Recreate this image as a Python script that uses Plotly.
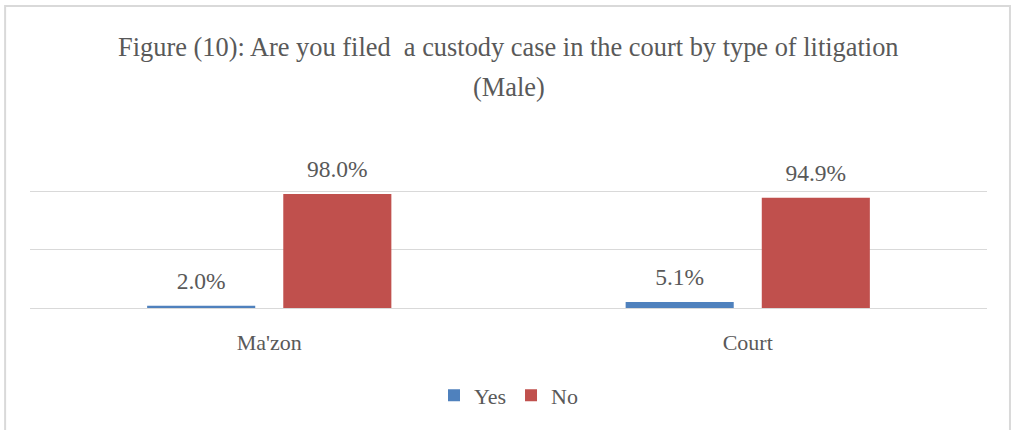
import plotly.graph_objects as go

categories = ["Ma'zon", "Court"]
yes_values = [2.0, 5.1]
no_values = [98.0, 94.9]
series_names = ["Yes", "No"]
title_line1 = "Figure (10): Are you filed  a custody case in the court by type of litigation"
title_line2 = "(Male)"

FONT = "Liberation Serif"
TXT = "#595959"
COLORS = ["#4f81bd", "#c0504d"]

fig = go.Figure()
for name, vals, col in zip(series_names, [yes_values, no_values], COLORS):
    fig.add_trace(go.Bar(
        x=categories, y=vals, name=name, offsetgroup=name,
        marker=dict(color=col, line=dict(width=0)),
    ))
for name, vals in zip(series_names, [yes_values, no_values]):
    fig.add_trace(go.Scatter(
        x=categories, y=vals, offsetgroup=name, mode="markers+text",
        texttemplate="%{y:.1f}%", textposition="top center",
        marker=dict(size=16, opacity=0), showlegend=False, hoverinfo="skip",
        textfont=dict(family=FONT, size=23.5, color=TXT), cliponaxis=False,
    ))

fig.update_layout(
    width=1011, height=430,
    margin=dict(l=30, r=24, t=133, b=122),
    paper_bgcolor="white", plot_bgcolor="white",
    barmode="group", bargap=0.431, bargroupgap=0.206,
    scattermode="group", scattergap=0.431,
    font=dict(family=FONT, color=TXT),
    xaxis=dict(showgrid=False, showline=False, ticks="", ticklabelstandoff=19,
               tickfont=dict(family=FONT, size=22, color=TXT)),
    yaxis=dict(range=[0, 150.6], tickvals=[0, 50, 100, 150], showticklabels=False,
               showgrid=True, gridcolor="#d9d9d9", gridwidth=1.3, zeroline=True,
               zerolinecolor="#d9d9d9", zerolinewidth=1.3, showline=False),
    showlegend=True,
    legend=dict(orientation="h", x=0.5, xanchor="center", y=-0.5, yanchor="middle",
                font=dict(family=FONT, size=22, color=TXT), traceorder="normal"),
)
fig.add_annotation(text=title_line1, xref="paper", yref="paper", x=0.5, y=1.49,
                   showarrow=False, xanchor="center", yanchor="middle",
                   font=dict(family=FONT, size=26.4, color=TXT))
fig.add_annotation(text=title_line2, xref="paper", yref="paper", x=0.5, y=1.265,
                   showarrow=False, xanchor="center", yanchor="middle",
                   font=dict(family=FONT, size=26.4, color=TXT))
fig.add_shape(type="rect", xref="paper", yref="paper",
              x0=-0.026, x1=1.024, y0=-0.75, y1=1.726,
              line=dict(color="#d9d9d9", width=2), layer="below")

fig.write_html("out.html", config={"displayModeBar": False},
               post_script="document.body.style.margin='0';")
